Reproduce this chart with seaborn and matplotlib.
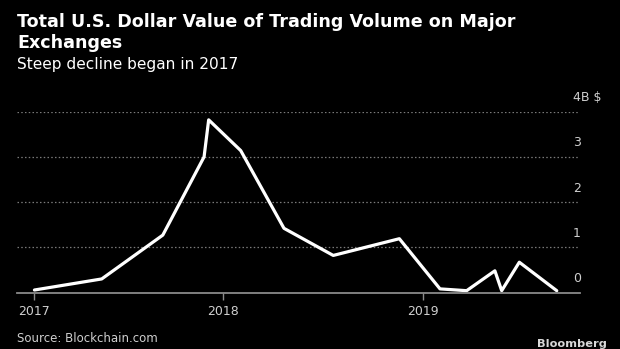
import matplotlib
matplotlib.use("Agg")
import matplotlib.pyplot as plt
import matplotlib.transforms as mtransforms
import seaborn as sns
import pandas as pd

# Data (decimal year, billions of US$)
dates = [2017.060, 2017.396, 2017.701, 2017.907, 2017.930, 2018.090, 2018.306,
         2018.552, 2018.882, 2019.085, 2019.218, 2019.359, 2019.393, 2019.481, 2019.668]
volume = [0.055, 0.30, 1.27, 3.00, 3.82, 3.14, 1.42,
          0.82, 1.19, 0.08, 0.04, 0.48, 0.04, 0.67, 0.04]
x_ticks = [2017.060, 2018.0, 2019.0]
x_labels = ["2017", "2018", "2019"]
y_ticks = [0, 1, 2, 3, 4]
y_labels = ["0", "1", "2", "3", "4B $"]

df = pd.DataFrame({"date": dates, "volume": volume})

sns.set_theme(style="dark")
plt.rcParams['font.family'] = ['DejaVu Sans']

W, H = 620, 349
fig = plt.figure(figsize=(W / 100, H / 100), dpi=100, facecolor="black")
ax = fig.add_axes([17 / W, 1 - 292.5 / H, (580 - 17) / W, (292.5 - 111.7) / H])
ax.set_facecolor("black")

sns.lineplot(data=df, x="date", y="volume", ax=ax, color="white", linewidth=2.3,
             clip_on=False)

ax.set_xlim(2016.973, 2019.784)
ax.set_ylim(0, 4)
ax.set_xlabel("")
ax.set_ylabel("")

for s in ["top", "right", "left"]:
    ax.spines[s].set_visible(False)
ax.spines["bottom"].set_color("#8a8a8a")
ax.spines["bottom"].set_linewidth(1.3)

ax.set_xticks(x_ticks)
ax.set_xticklabels(x_labels, color="#cfcfcf", fontsize=9)
ax.tick_params(axis="x", length=5, width=1, color="#8a8a8a", pad=4, bottom=True)
ax.set_yticks([])
ax.grid(False)
for v in y_ticks[1:]:
    ax.axhline(v, color="#7a7a7a", linestyle=(0, (1.2, 1.8)), linewidth=0.9, zorder=0)

trans = mtransforms.offset_copy(ax.get_yaxis_transform(), fig=fig, x=0, y=14 * 72 / 100, units="points")
for v, lab in zip(y_ticks, y_labels):
    ax.text((573 - 17) / (580 - 17), v, lab, transform=trans, ha="left", va="center",
            color="#cfcfcf", fontsize=9)

fig.text(17 / W, 1 - 22 / H, "Total U.S. Dollar Value of Trading Volume on Major",
         color="white", fontsize=12.6, fontweight="bold", ha="left", va="center")
fig.text(17 / W, 1 - 43.5 / H, "Exchanges",
         color="white", fontsize=12.6, fontweight="bold", ha="left", va="center")
fig.text(17 / W, 1 - 64 / H, "Steep decline began in 2017",
         color="white", fontsize=11.1, ha="left", va="center")
fig.text(17 / W, 1 - 339 / H, "Source: Blockchain.com",
         color="#cfcfcf", fontsize=8.5, ha="left", va="center")
fig.text(607 / W, 1 - 344 / H, "Bloomberg",
         color="#d8d8d8", fontsize=8.2, fontweight="bold", ha="right", va="center")

fig.savefig("out.png", dpi=100, facecolor="black")
